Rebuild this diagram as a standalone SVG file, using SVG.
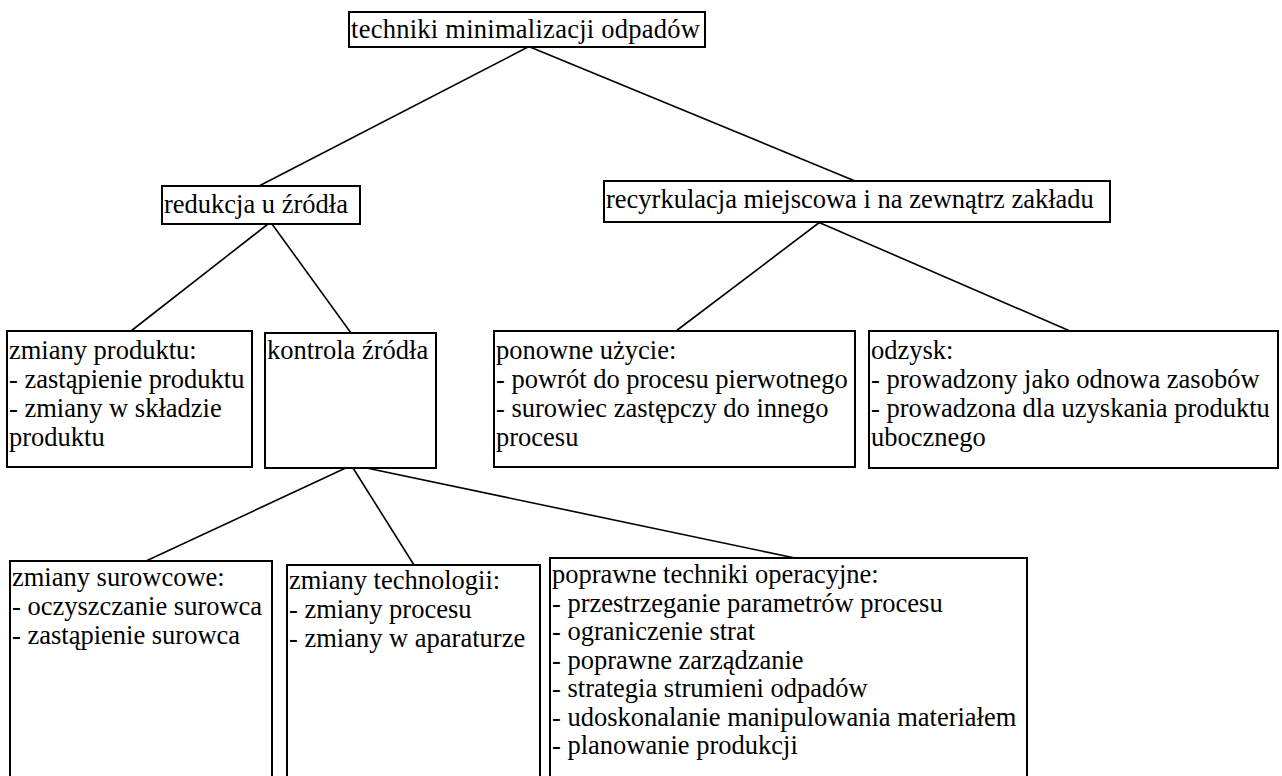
<svg xmlns="http://www.w3.org/2000/svg" width="1282" height="776" viewBox="0 0 1282 776">
<style>
rect.box{fill:#fff;stroke:#000;stroke-width:2}
text{font-family:"Liberation Serif",serif;font-size:26.5px;fill:#000}
.conn line{stroke:#000;stroke-width:1.6}
</style>
<rect width="1282" height="776" fill="#fff"/>
<g id="connectors" class="conn">
<line x1="528" y1="47" x2="259" y2="186"/>
<line x1="530" y1="47" x2="855" y2="181"/>
<line x1="268" y1="224" x2="131" y2="331"/>
<line x1="272" y1="224" x2="351" y2="333"/>
<line x1="820" y1="222" x2="676" y2="331"/>
<line x1="818" y1="222" x2="1070" y2="331"/>
<line x1="350" y1="466" x2="146" y2="561"/>
<line x1="348" y1="460" x2="414" y2="565"/>
<line x1="357" y1="466" x2="795" y2="558"/>
</g>
<g id="n-top">
<rect class="box" x="349" y="12" width="356" height="35"/>
<text x="351" y="38" textLength="349" lengthAdjust="spacing">techniki minimalizacji odpadów</text>
</g>
<g id="n-redukcja">
<rect class="box" x="162" y="186" width="198" height="38"/>
<text x="164" y="213">redukcja u źródła</text>
</g>
<g id="n-recyrkulacja">
<rect class="box" x="604" y="181" width="506" height="41"/>
<text x="606" y="208">recyrkulacja miejscowa i na zewnątrz zakładu</text>
</g>
<g id="n-produkt">
<rect class="box" x="7" y="331" width="245" height="136"/>
<text x="9" y="359">zmiany produktu:</text>
<text x="9" y="388">- zastąpienie produktu</text>
<text x="9" y="417">- zmiany w składzie</text>
<text x="9" y="446">produktu</text>
</g>
<g id="n-kontrola">
<rect class="box" x="265" y="333" width="171" height="135"/>
<text x="267" y="359">kontrola źródła</text>
</g>
<g id="n-ponowne">
<rect class="box" x="494" y="331" width="361" height="136"/>
<text x="496" y="359">ponowne użycie:</text>
<text x="496" y="388">- powrót do procesu pierwotnego</text>
<text x="496" y="417">- surowiec zastępczy do innego</text>
<text x="496" y="446">procesu</text>
</g>
<g id="n-odzysk">
<rect class="box" x="869" y="331" width="409" height="137"/>
<text x="871" y="359">odzysk:</text>
<text x="871" y="388">- prowadzony jako odnowa zasobów</text>
<text x="871" y="417">- prowadzona dla uzyskania produktu</text>
<text x="871" y="446">ubocznego</text>
</g>
<g id="n-surowcowe">
<rect class="box" x="10" y="561" width="262" height="230"/>
<text x="12" y="586">zmiany surowcowe:</text>
<text x="12" y="615">- oczyszczanie surowca</text>
<text x="12" y="644">- zastąpienie surowca</text>
</g>
<g id="n-technologii">
<rect class="box" x="287" y="565" width="253" height="230"/>
<text x="289" y="589">zmiany technologii:</text>
<text x="289" y="618">- zmiany procesu</text>
<text x="289" y="647">- zmiany w aparaturze</text>
</g>
<g id="n-operacyjne">
<rect class="box" x="550" y="558" width="477" height="230"/>
<text x="552" y="583">poprawne techniki operacyjne:</text>
<text x="552" y="611.5">- przestrzeganie parametrów procesu</text>
<text x="552" y="640">- ograniczenie strat</text>
<text x="552" y="668.5">- poprawne zarządzanie</text>
<text x="552" y="697">- strategia strumieni odpadów</text>
<text x="552" y="725.5">- udoskonalanie manipulowania materiałem</text>
<text x="552" y="754">- planowanie produkcji</text>
</g>
</svg>
